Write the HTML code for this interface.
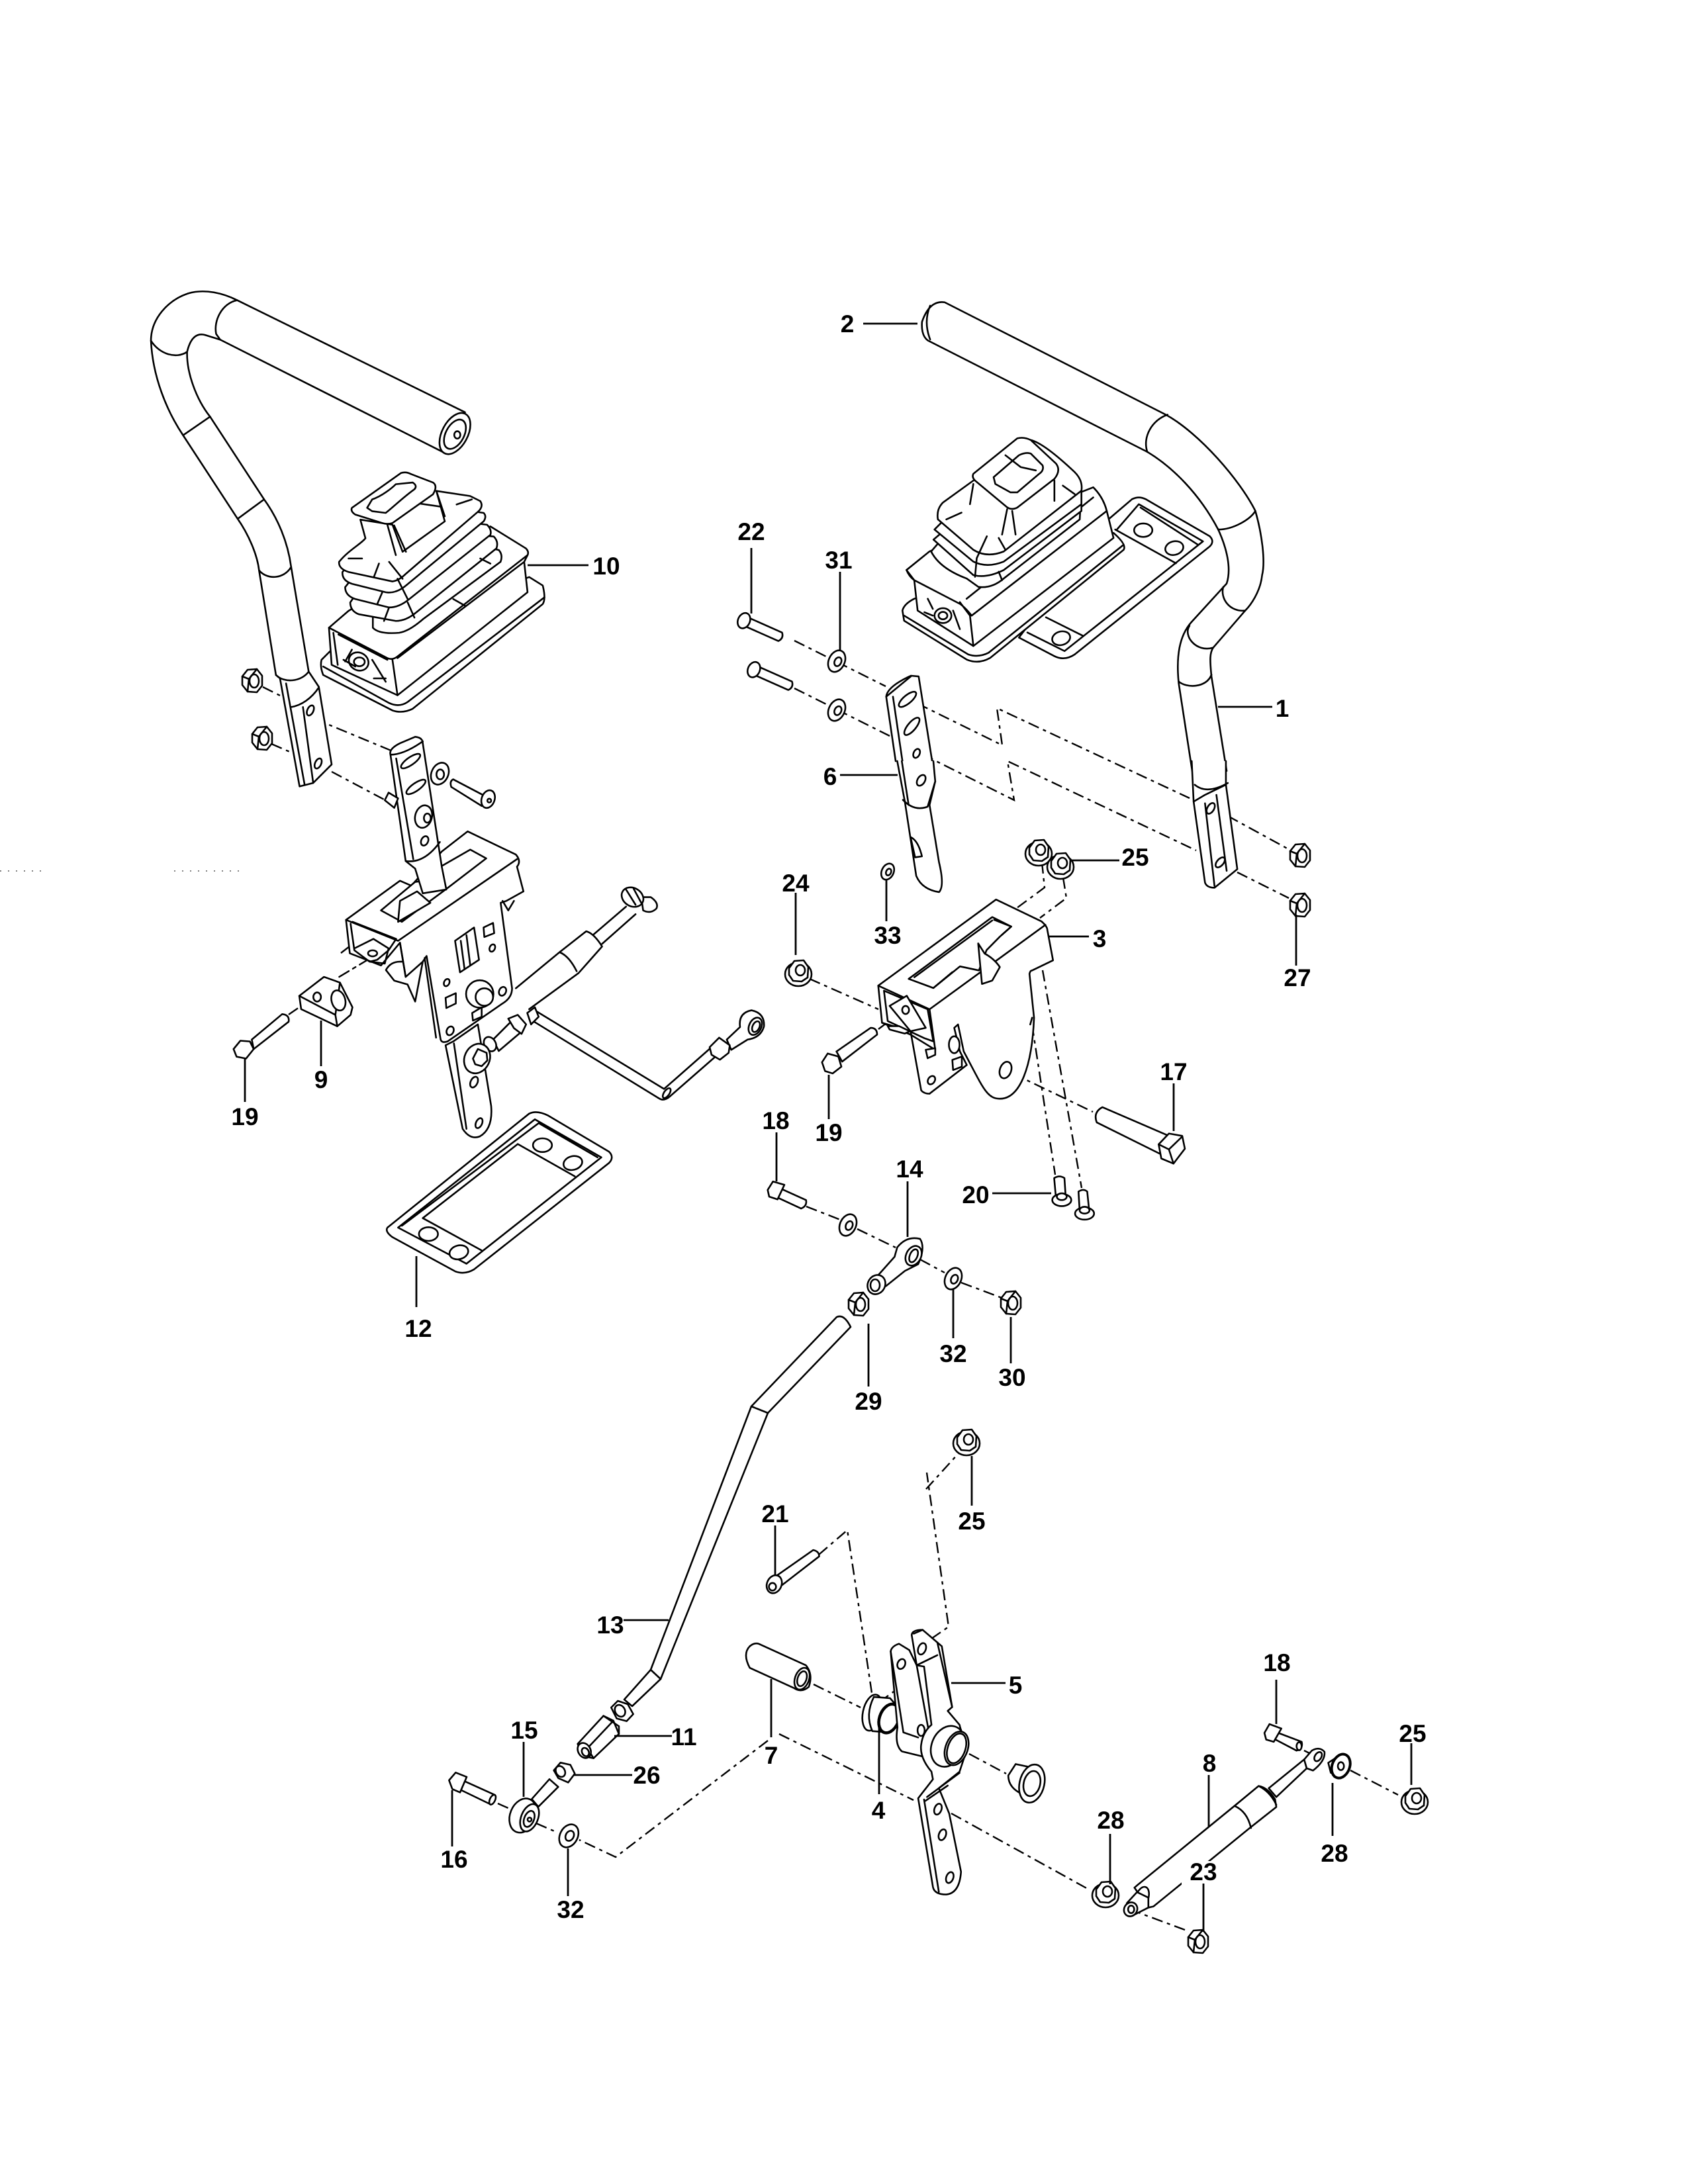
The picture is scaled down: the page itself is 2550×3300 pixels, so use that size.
<!DOCTYPE html>
<html><head><meta charset="utf-8"><style>
html,body{margin:0;padding:0;background:#fff}
svg{display:block}
svg *{vector-effect:non-scaling-stroke}
.p{fill:#fff;stroke:#000;stroke-width:2.6;stroke-linejoin:round;stroke-linecap:round}
.p .n,.n{fill:none}
.d{fill:none;stroke:#000;stroke-width:2.4;stroke-dasharray:17 7 5 7}
.l{fill:none;stroke:#000;stroke-width:2.8}
text{font-family:"Liberation Sans",sans-serif;font-weight:bold;font-size:37px;fill:#000;text-anchor:middle;stroke:none}
</style></head><body>
<svg xmlns="http://www.w3.org/2000/svg" width="2550" height="3300" viewBox="0 0 2550 3300">
<defs>
<g id="nut"><polygon points="-15,-7 -7,-17 7,-18 15,-8 15,7 7,17 -7,16 -15,6"/><ellipse cx="3" cy="0" rx="7" ry="10"/><path class="n" d="M-15,-7 L-5,-3 L-7,16 M-5,-3 L7,-18"/></g>
<g id="fl"><ellipse cx="0" cy="3" rx="20" ry="18"/><polygon points="-14,-6 -6,-17 8,-18 15,-8 14,8 5,14 -8,13 -14,4"/><ellipse cx="3" cy="-3" rx="7" ry="8"/></g>
<g id="w"><ellipse cx="0" cy="0" rx="12" ry="17" transform="rotate(25)"/><ellipse cx="2" cy="0" rx="5" ry="7" transform="rotate(25)"/></g>
</defs>
<rect width="2550" height="3300" fill="#fff"/>

<!-- dashed lines -->
<g class="d">
<path d="M397,1038 L427,1053 M410,1124 L440,1137 M475,1086 L593,1135 M501,1166 L582,1209"/>
<path d="M1200,968 L1338,1037 M1386,1063 L1514,1126 L1506,1070 L1797,1206 M1200,1040 L1348,1114 M1394,1140 L1532,1209 L1522,1150 L1807,1285"/>
<path d="M1855,1233 L1950,1285 M1869,1318 L1947,1357"/>
<path d="M1574,1303 L1578,1341 L1536,1372 M1606,1326 L1611,1357 L1571,1387"/>
<path d="M1223,1479 L1327,1525 M1327,1555 L1347,1540 M1530,1622 L1651,1680"/>
<path d="M1559,1548 L1594,1775 M1575,1466 L1634,1795"/>
<path d="M1218,1823 L1272,1844 M1295,1857 L1353,1885 M1390,1903 L1427,1923 M1452,1938 L1516,1962"/>
<path d="M515,1440 L550,1413 M436,1533 L452,1522"/>
<path d="M1237,2349 L1280,2312 L1320,2578 L1350,2556 M1399,2250 L1448,2196 M1407,2476 L1433,2458 L1400,2225"/>
<path d="M1229,2545 L1300,2580 M1464,2650 L1520,2680 M1437,2740 L1645,2855 M1177,2620 L1380,2720"/>
<path d="M1160,2630 L930,2806 L875,2780 M810,2755 L840,2768 M752,2725 L770,2733"/>
<path d="M1790,2916 L1720,2890 M2040,2675 L2112,2712 M1970,2645 L2000,2660"/>
</g>

<!-- LEFT HANDLE + BOOT 10 -->
<g class="p" transform="translate(200,400) scale(.5102)">
<path d="M985,437 L310,105 C270,85 215,70 165,85 C105,105 55,160 55,225 C60,330 100,430 150,505 L310,750 C345,800 370,860 375,905 L425,1215 L437,1225 L495,1545 L535,1535 L590,1480 L552,1250 L522,1205 L470,895 C460,820 430,750 390,695 L230,450 C190,400 160,320 162,258 C170,225 185,200 215,208 L260,222 L920,555 Z"/>
<ellipse cx="955" cy="500" rx="38" ry="66" transform="rotate(28 955 500)"/>
<ellipse cx="955" cy="502" rx="27" ry="47" transform="rotate(28 955 502)"/>
<ellipse cx="962" cy="504" rx="9" ry="11"/>
<path class="n" d="M310,105 C265,115 240,165 248,205 L260,222 M55,225 C80,265 130,280 162,258 M150,505 L230,450 M315,750 L390,695 M375,905 C400,935 450,930 470,895 M425,1215 C450,1240 500,1235 522,1205 M455,1240 L510,1540 M505,1310 L535,1532 M470,1310 C500,1305 530,1285 552,1252"/>
<ellipse cx="527" cy="1320" rx="9" ry="16" transform="rotate(25 527 1320)"/>
<ellipse cx="550" cy="1477" rx="9" ry="16" transform="rotate(25 550 1477)"/>

<path d="M560,1170 L590,1140 L1175,925 L1215,950 Q1225,990 1215,1005 L830,1315 Q800,1330 770,1320 L565,1215 Q555,1190 560,1170Z"/>
<path class="n" d="M565,1190 L760,1298 Q790,1312 815,1295 L1220,985"/>
<path d="M582,1075 L640,1025 L1060,775 L1165,840 Q1175,850 1170,860 L1160,880 L1170,970 L785,1275 L590,1185Z"/>
<path class="n" d="M582,1075 L755,1165 Q770,1172 785,1160 L1170,860 M770,1170 L785,1275 M595,1090 L608,1185 M610,1095 L755,1170 M785,1165 L1160,880"/>
<ellipse cx="670" cy="1175" rx="30" ry="26" transform="rotate(30 670 1175)"/><ellipse cx="672" cy="1176" rx="16" ry="13"/>
<path class="n" d="M630,1175 L650,1140 M625,1170 L660,1190 M710,1170 L750,1235 M715,1225 L750,1225"/>
<path d="M712,1045 L712,1075 Q730,1095 790,1090 Q820,1085 860,1050 L1090,880 Q1098,860 1085,845 L900,800Z"/>
<path d="M645,1000 Q645,1025 670,1035 L780,1055 Q810,1055 840,1030 L1078,840 Q1085,820 1070,805 L800,780Z"/>
<path d="M630,955 Q630,980 660,990 L760,1015 Q790,1015 820,990 L1060,800 Q1065,785 1050,770 L800,740Z"/>
<path d="M622,910 Q620,935 650,945 L750,970 Q780,975 810,950 L1040,760 Q1050,745 1040,735 L800,700Z"/>
<path d="M690,810 C680,825 640,845 612,880 Q610,900 640,910 L770,938 Q790,935 810,915 L1025,730 Q1040,715 1030,700 L1000,685 L900,670 L925,760 L800,850 L770,770 L675,755 Z"/>
<path d="M650,720 L795,617 Q810,612 825,620 L890,645 Q905,655 890,680 L770,765 Q755,770 740,765 L660,740 Q645,730 650,720Z"/>
<path d="M695,720 L710,695 C740,685 770,660 780,650 L830,645 Q845,655 835,665 C800,690 770,720 750,735 L710,730 Z"/>
<path class="n" d="M755,770 L780,860 M775,772 L810,850 M730,885 L715,925 M760,880 L800,930 M640,870 L680,870 M960,710 L1005,695 M900,670 L925,745 M785,930 L815,990 M740,970 L725,1005 M760,1015 L745,1055 M815,1000 L835,1045 M1030,870 L1060,885 M950,990 L985,1010"/>
</g>
<use href="#nut" x="381" y="1029" class="p"/>
<use href="#nut" x="396" y="1116" class="p"/>

<!-- LEFT MID ASSEMBLY -->
<g class="p" transform="translate(300,1080) scale(.574)">
<path class="d" style="fill:none" d="M370,690 L445,645"/>
<!-- bracket 9 -->
<path d="M265,740 L330,690 L372,705 L405,770 L400,790 L365,820 L270,775 Z"/>
<path class="n" d="M265,740 L360,790 L372,705 M360,790 L365,820"/>
<ellipse cx="312" cy="743" rx="10" ry="12"/><ellipse cx="368" cy="752" rx="18" ry="27" transform="rotate(-15 368 752)"/>
<!-- bolt 19 -->
<path d="M140,855 L220,788 Q240,790 237,808 L145,880Z"/>
<polygon points="92,880 110,858 135,860 145,880 125,905 100,900"/>
<!-- lower lever -->
<path d="M650,870 L670,860 L735,815 L770,1030 Q775,1090 740,1110 Q715,1120 695,1090Z"/>
<path class="n" d="M672,865 L705,1090"/>
<ellipse cx="725" cy="967" rx="9" ry="15" transform="rotate(25 725 967)"/>
<ellipse cx="738" cy="1075" rx="8" ry="14" transform="rotate(25 738 1075)"/>
<!-- back bits -->
<path d="M493,672 Q505,650 530,650 L590,650 L570,755 L550,710 L515,700Z"/>
<!-- bracket -->
<path d="M388,540 L530,437 L560,450 L640,360 L708,307 L835,368 Q850,385 838,400 L855,465 L810,490 L795,495 L825,720 Q825,745 800,760 L655,860 Q640,865 637,855 L600,635 L590,650 L545,690 L530,600 L480,660 L398,628Z"/>
<path class="n" d="M388,540 L525,595 L838,380 M530,600 L545,690 M400,550 L410,620 L450,650 L470,645 L500,620 L520,590 L405,545 M410,615 L460,590 L500,615 L490,655 L450,650"/>
<path d="M480,515 L535,545 L650,460 L757,378 L715,355 L640,398 L610,435 L570,440 Z"/>
<path d="M525,545 L530,490 L575,465 L610,495 Z"/>
<ellipse cx="458" cy="628" rx="12" ry="8"/>
<path d="M675,595 L725,560 L738,645 L688,678Z"/><path class="n" d="M690,595 L700,670 M705,580 L715,660"/>
<path class="n" d="M595,640 L625,850 M800,490 L815,515 L830,490"/>
<path d="M750,560 L775,548 L778,575 L752,585Z"/><path d="M650,745 L677,733 L677,760 L652,772Z"/><path d="M720,785 L745,770 L745,795 L722,805Z"/>
<ellipse cx="773" cy="614" rx="7" ry="10" transform="rotate(25 773 614)"/><ellipse cx="653" cy="705" rx="7" ry="10" transform="rotate(25 653 705)"/><ellipse cx="800" cy="728" rx="9" ry="12" transform="rotate(25 800 728)"/><ellipse cx="662" cy="832" rx="9" ry="12" transform="rotate(25 662 832)"/>
<circle cx="740" cy="735" r="36"/><circle cx="752" cy="743" r="23"/>
<!-- arm -->
<path d="M505,105 Q500,90 530,75 L570,58 Q590,60 590,75 L640,400 L652,460 L590,470 L570,405 L545,385Z"/>
<path class="n" d="M520,115 L565,380 M505,105 Q540,105 590,70 M545,385 C580,390 610,370 635,335"/>
<ellipse cx="558" cy="122" rx="10" ry="30" transform="rotate(55 558 122)"/>
<ellipse cx="572" cy="190" rx="10" ry="30" transform="rotate(55 572 190)"/>
<ellipse cx="592" cy="268" rx="22" ry="30" transform="rotate(15 592 268)"/><ellipse cx="602" cy="272" rx="9" ry="12"/>
<ellipse cx="595" cy="332" rx="9" ry="13" transform="rotate(25 595 332)"/>
<path d="M500,205 L490,225 L515,245 L525,220Z"/>
<ellipse cx="635" cy="155" rx="22" ry="30" transform="rotate(25 635 155)"/><ellipse cx="636" cy="157" rx="10" ry="13"/>
<path d="M670,170 L750,212 L745,240 L665,190Q660,175 670,170Z"/><ellipse cx="762" cy="222" rx="17" ry="24" transform="rotate(20 762 222)"/><circle cx="765" cy="226" r="5"/>
<!-- rods -->
<path d="M880,775 L1225,985 L1350,875 L1360,900 L1240,1005 Q1225,1018 1212,1010 L870,800Z"/>
<ellipse cx="1232" cy="996" rx="7" ry="15" transform="rotate(35 1232 996)"/>
<path d="M835,720 L950,625 L1020,570 Q1040,575 1062,610 L1000,680 L870,775"/>
<path class="n" d="M950,625 C975,635 990,665 995,675 M1040,578 L1125,505 M1062,603 L1150,525"/>
<path d="M1165,480 L1190,480 Q1212,495 1205,510 Q1190,525 1170,515Z"/>
<ellipse cx="1142" cy="480" rx="30" ry="24" transform="rotate(30 1142 480)"/><path class="n" d="M1125,460 L1150,500 M1145,458 L1165,495"/>
<path d="M1390,855 L1425,822 Q1420,785 1455,778 Q1490,785 1488,820 Q1480,850 1445,855 L1402,882Z"/>
<polygon points="1345,875 1370,850 1398,870 1395,890 1372,908 1350,895"/>
<ellipse cx="1465" cy="820" rx="16" ry="24" transform="rotate(25 1465 820)"/><ellipse cx="1467" cy="821" rx="9" ry="15" transform="rotate(25 1467 821)"/>
<path d="M775,855 L825,805 L855,830 L790,885 Z"/><polygon points="815,800 840,790 862,815 850,840 830,825"/>
<ellipse cx="767" cy="867" rx="15" ry="20" transform="rotate(-30 767 867)"/>
<path d="M865,785 L885,770 L895,795 L875,815Z"/>
<ellipse cx="733" cy="905" rx="33" ry="40" transform="rotate(25 733 905)"/><polygon points="722,905 735,880 758,890 760,910 745,925 728,920"/>
<!-- plate 12 -->
<path d="M497,1350 L870,1050 Q890,1040 920,1055 L1080,1150 Q1095,1165 1080,1180 L725,1460 Q700,1475 675,1465 L510,1375 Q490,1360 497,1350Z"/>
<path class="n" d="M525,1350 L885,1065 L1060,1165 L705,1445 L525,1350 M535,1345 L895,1075 L1050,1165 M840,1130 L990,1215 M590,1325 L745,1410 M590,1325 L840,1130"/>
<ellipse cx="905" cy="1133" rx="25" ry="18"/><ellipse cx="985" cy="1180" rx="25" ry="18" transform="rotate(-15 985 1180)"/><ellipse cx="605" cy="1367" rx="25" ry="18"/><ellipse cx="685" cy="1415" rx="25" ry="18" transform="rotate(-15 685 1415)"/>
</g>

<!-- RIGHT HANDLE + BOOT -->
<g class="p" transform="translate(1200,420) scale(.5102)">
<path d="M1178,1460 L1138,1200 C1130,1120 1140,1060 1175,1020 L1280,905 C1295,860 1280,800 1255,745 C1200,640 1120,560 1045,515 L395,185 Q375,170 378,130 Q400,65 445,72 L1100,405 C1200,460 1320,600 1365,690 C1385,760 1395,840 1385,880 C1380,930 1350,970 1335,985 L1240,1095 C1230,1110 1230,1130 1235,1180 L1280,1460"/>
<path class="n" d="M402,82 Q382,130 402,182 M1105,405 C1060,420 1030,470 1045,515 M1255,745 C1300,745 1350,715 1365,690 M1270,915 C1260,950 1290,990 1335,985 M1170,1030 C1150,1060 1190,1110 1240,1095 M1138,1195 C1160,1215 1220,1215 1235,1175"/>
<path d="M930,715 L1000,655 Q1020,645 1040,655 L1230,765 Q1245,780 1230,795 L830,1115 Q800,1135 770,1120 L665,1065Z"/>
<path class="n" d="M955,745 L1020,670 L1210,780 L800,1105 L690,1050 M950,745 L1130,845 M745,1005 L855,1060 M1025,680 L1195,790"/>
<ellipse cx="1033" cy="747" rx="27" ry="20"/><ellipse cx="1125" cy="800" rx="27" ry="20" transform="rotate(-15 1125 800)"/><ellipse cx="790" cy="1067" rx="27" ry="20" transform="rotate(-15 790 1067)"/>
<path d="M320,985 Q325,965 355,950 L945,755 Q985,790 975,805 L580,1125 Q545,1145 510,1130 L325,1015Z"/>
<path class="n" d="M325,1000 L515,1115 Q545,1125 575,1110 L975,790"/>
<path d="M332,865 L400,810 L885,620 Q915,650 925,690 L945,770 L530,1090 L365,985 L355,895Z"/>
<path class="n" d="M332,865 Q340,885 355,895 L490,965 Q505,975 525,1000 L925,690 M490,960 L520,1000 L530,1090 M510,950 L885,650"/>
<ellipse cx="440" cy="1000" rx="25" ry="22"/><ellipse cx="440" cy="1000" rx="13" ry="11"/>
<path class="n" d="M395,950 L410,980 M385,990 L410,1000 M470,985 L490,1040"/>
<path d="M405,810 Q430,860 510,890 L545,915 Q585,920 620,890 L845,715 L850,620 L500,700 Z"/>
<path d="M412,775 L530,880 Q570,890 620,865 L850,690 L850,620 L500,700Z"/>
<path d="M415,745 L530,840 Q570,860 620,840 L850,670 L850,620 L500,660Z"/>
<path d="M425,715 Q420,685 440,665 L530,600 L700,480 Q740,490 830,575 Q855,600 850,630 L620,810 Q570,830 530,805Z"/>
<path d="M530,580 L660,475 Q680,470 700,480 L775,550 Q790,570 770,595 L660,680 Q640,690 625,675 L535,600 Q525,590 530,580Z"/>
<path d="M590,590 L665,525 Q685,515 700,520 L735,555 Q740,570 725,580 L660,635 L640,635 L595,610 Z"/>
<path class="n" d="M630,685 L615,760 M645,690 L655,760 M570,765 L540,830 M605,770 L625,805 M450,715 L495,695 M530,610 L520,670 M770,600 L770,660 M795,615 L830,640 M625,525 L670,560 L715,570 M540,830 L535,885 M605,870 L615,895"/>
<!-- arm 6 upper -->
<path d="M300,1431 L272,1240 Q275,1210 345,1178 L368,1180 L408,1431"/>
<path class="n" d="M292,1240 L320,1431 M272,1240 L345,1180"/>
<ellipse cx="335" cy="1248" rx="12" ry="32" transform="rotate(50 335 1248)"/>
<ellipse cx="348" cy="1328" rx="12" ry="32" transform="rotate(40 348 1328)"/>
<ellipse cx="362" cy="1408" rx="9" ry="14" transform="rotate(25 362 1408)"/>
</g>
<g class="p" transform="translate(1122,937) rotate(24)"><path d="M5,-7 L62,-7 Q68,0 62,7 L5,7Z"/><ellipse cx="2" cy="0" rx="9" ry="12"/></g>
<g class="p" transform="translate(1137,1011) rotate(24)"><path d="M5,-7 L62,-7 Q68,0 62,7 L5,7Z"/><ellipse cx="2" cy="0" rx="9" ry="12"/></g>
<use href="#w" x="1264" y="999" class="p"/>
<use href="#w" x="1264" y="1073" class="p"/>

<!-- BRACKET 3 etc -->
<g class="p" transform="translate(1100,1150) scale(.574,.5102)">
<!-- arm 6 lower -->
<path d="M445,0 L465,120 L495,340 Q510,380 555,388 Q570,370 555,300 L530,130 L545,60 L540,0"/>
<path class="n" d="M460,115 Q490,150 525,135 L545,60 M457,0 L475,130"/>
<ellipse cx="508" cy="57" rx="10" ry="17" transform="rotate(25 508 57)"/>
<path d="M480,225 Q500,235 510,282 L492,285 Z"/>
<!-- handle bottom -->
<path d="M1220,0 L1225,120 L1255,360 Q1260,375 1280,375 L1340,320 L1310,70 L1310,0"/>
<path class="n" d="M1228,70 Q1260,100 1315,65 M1255,125 L1280,370 M1285,100 L1312,325 M1225,120 L1255,100 L1310,70"/>
<ellipse cx="1270" cy="140" rx="9" ry="17" transform="rotate(25 1270 140)"/><ellipse cx="1295" cy="300" rx="9" ry="17" transform="rotate(35 1295 300)"/>
<path d="M395,665 L705,410 L825,475 Q840,490 840,500 L855,590 L800,620 Q795,620 793,630 L805,760 C800,900 770,1000 715,1000 C680,1000 670,965 620,860 L605,780 L595,790 L610,860 L628,900 L530,985 Q515,985 508,975 L480,800 L405,775 Z"/>
<path class="n" d="M395,665 L530,735 L835,485 M530,735 L545,855 L480,810 L405,775 M800,760 L795,780"/>
<path d="M475,645 L695,462 L745,490 L715,520 L680,560 L660,620 L610,608 L540,672 Z"/>
<path class="n" d="M540,672 L590,625 M490,640 L695,472 M700,470 L745,490 L720,515"/>
<path d="M658,540 L668,660 L695,650 L715,610 Q700,585 675,570Z"/>
<path d="M410,680 L525,735 L540,830 L515,820 L420,770 Z"/>
<path d="M425,725 L470,695 L520,790 L480,800Z"/>
<ellipse cx="467" cy="737" rx="9" ry="12"/>
<path d="M420,785 L450,785 L478,800 L465,807 L425,795Z"/>
<ellipse cx="595" cy="840" rx="14" ry="25"/><path d="M590,885 L615,875 L615,905 L592,915Z"/><path d="M520,855 L545,850 L545,870 L525,880Z"/><ellipse cx="535" cy="945" rx="9" ry="13" transform="rotate(25 535 945)"/>
<ellipse cx="730" cy="915" rx="15" ry="25" transform="rotate(15 730 915)"/>
<!-- bolt19 -->
<path d="M285,860 L375,790 Q392,790 392,810 L300,890Z"/><polygon points="247,892 262,866 290,875 298,905 275,925 255,918"/>
<!-- bolt17 -->
<path d="M985,1025 L1160,1110 L1140,1165 L970,1070 Q960,1040 985,1025Z"/>
<polygon points="1133,1135 1160,1103 1195,1110 1202,1148 1172,1192 1140,1177"/><path class="n" d="M1133,1135 L1160,1150 L1172,1192 M1160,1150 L1195,1112"/>
<!-- bolts 20 -->
<path d="M858,1235 Q872,1225 885,1235 L888,1285 L862,1285Z"/><ellipse cx="878" cy="1300" rx="25" ry="18"/><ellipse cx="878" cy="1290" rx="13" ry="10"/>
<path d="M922,1275 Q935,1265 945,1275 L950,1330 L925,1330Z"/><ellipse cx="938" cy="1340" rx="25" ry="18"/><ellipse cx="938" cy="1330" rx="13" ry="10"/>
<!-- bolt 18 -->
<path d="M130,1262 L205,1300 Q208,1318 192,1325 L125,1290Z"/><polygon points="104,1270 118,1245 148,1255 130,1298 108,1290"/>
<!-- eye 14 -->
<path d="M438,1468 L445,1440 Q470,1405 505,1415 Q520,1440 500,1490 L465,1510 L415,1555 L385,1535Z"/>
<ellipse cx="488" cy="1465" rx="20" ry="30" transform="rotate(20 488 1465)"/><ellipse cx="488" cy="1465" rx="10" ry="20" transform="rotate(20 488 1465)"/>
</g>
<use href="#w" x="1281" y="1851" class="p"/>
<use href="#w" x="1440" y="1932" class="p"/>
<g class="p" transform="translate(1341,1317) scale(.75)"><use href="#w"/></g>
<use href="#nut" x="1964" y="1293" class="p"/>
<use href="#nut" x="1964" y="1368" class="p"/>
<use href="#fl" x="1569" y="1287" class="p"/>
<use href="#fl" x="1602" y="1307" class="p"/>
<use href="#fl" x="1206" y="1469" class="p"/>
<use href="#nut" x="1527" y="1969" class="p"/>
<use href="#nut" x="1297" y="1971" class="p"/>
<g class="p"><ellipse cx="1324" cy="1941" rx="13" ry="15" transform="rotate(30 1324 1941)"/><ellipse cx="1322" cy="1942" rx="7" ry="9"/></g>
<use href="#fl" x="1460" y="2178" class="p"/>

<!-- ROD 13 -->
<g class="p">
<path d="M1264,1990 Q1275,1985 1285,2005 L1160,2135 L998,2537 L955,2578 L943,2568 L983,2523 L1135,2125Z"/>
<path class="n" d="M1135,2125 L1160,2135 M983,2523 L998,2537"/>
</g>

<!-- LOWER LEFT -->
<g class="p" transform="translate(650,2400) scale(.3333)">
<polygon points="820,540 850,510 895,525 920,570 890,602 845,590"/><ellipse cx="860" cy="555" rx="22" ry="28" transform="rotate(-30 860 555)"/>
<path d="M668,705 L785,578 L855,625 L855,660 L740,770 L690,760Z"/><path class="n" d="M712,725 L830,600 M785,578 L830,600 L855,660 M712,725 L740,770"/>
<ellipse cx="698" cy="735" rx="28" ry="36" transform="rotate(-30 698 735)"/><ellipse cx="703" cy="742" rx="15" ry="20" transform="rotate(-30 703 742)"/>
<polygon points="560,825 590,790 635,800 655,840 625,880 580,860"/><ellipse cx="590" cy="830" rx="20" ry="26" transform="rotate(-30 590 830)"/>
<path d="M540,865 L580,900 L490,990 L460,955Z"/>
<ellipse cx="420" cy="1030" rx="58" ry="80" transform="rotate(22 420 1030)"/>
<ellipse cx="450" cy="1040" rx="38" ry="65" transform="rotate(22 450 1040)"/><ellipse cx="448" cy="1045" rx="22" ry="38" transform="rotate(22 448 1045)"/><circle cx="450" cy="1048" r="9"/>
<path d="M135,865 L290,935 Q300,960 275,980 L120,905Z"/><polygon points="85,870 115,835 165,855 135,925 100,910"/><ellipse cx="282" cy="958" rx="12" ry="24" transform="rotate(25 282 958)"/>
<ellipse cx="628" cy="1122" rx="40" ry="55" transform="rotate(28 628 1122)"/><ellipse cx="632" cy="1122" rx="18" ry="24" transform="rotate(28 632 1122)"/>
</g>

<!-- LEVER 5 etc -->
<g class="p" transform="translate(1050,2300) scale(.4464,.3827)">
<!-- bolt 21 -->
<path d="M275,212 L400,110 Q420,115 420,135 L295,248 Z"/><ellipse cx="268" cy="245" rx="25" ry="36" transform="rotate(15 268 245)"/><ellipse cx="262" cy="255" rx="12" ry="15"/>
<!-- spacer 7 -->
<path d="M215,480 L375,565 Q400,600 385,650 Q360,675 335,655 L185,575 Q160,520 185,490 Q200,475 215,480Z"/><ellipse cx="362" cy="618" rx="24" ry="44" transform="rotate(15 362 618)"/><ellipse cx="362" cy="618" rx="15" ry="30" transform="rotate(15 362 618)"/>
<!-- bushing 4 -->
<ellipse cx="600" cy="752" rx="32" ry="72" transform="rotate(10 600 752)"/>
<path d="M605,690 L660,695 L690,735 L660,830 L600,825 Q575,760 605,690Z"/>
<ellipse cx="657" cy="775" rx="33" ry="58" transform="rotate(15 657 775)" style="stroke-width:4.5"/>
<!-- rear ear -->
<path d="M685,810 Q675,880 700,905 L770,925 L790,820 L750,565 L725,505 L690,480 Q665,490 662,510 L685,810Z"/>
<path class="n" d="M662,510 L705,830 L755,850"/>
<ellipse cx="698" cy="560" rx="13" ry="20" transform="rotate(15 698 560)"/>
<ellipse cx="765" cy="822" rx="12" ry="22"/>
<!-- front arm -->
<path d="M733,445 Q735,425 770,425 L835,490 L870,730 L855,745 L895,800 Q900,830 925,880 L895,985 L825,1050 L860,1150 L900,1380 Q895,1465 850,1470 Q810,1470 805,1440 L755,1090 L805,1015 L800,985 Q760,930 765,880 Q770,830 800,800 L775,570 L750,565 Z"/>
<path class="n" d="M750,565 L820,525 M820,475 L870,730 M775,1095 L825,1460 M785,1085 L895,990 M780,1100 L855,1040 M740,440 L770,425"/>
<ellipse cx="768" cy="500" rx="13" ry="23" transform="rotate(15 768 500)"/>
<ellipse cx="855" cy="885" rx="55" ry="82" transform="rotate(15 855 885)"/>
<ellipse cx="885" cy="893" rx="38" ry="68" transform="rotate(15 885 893)"/><ellipse cx="885" cy="893" rx="30" ry="60" transform="rotate(15 885 893)"/>
<ellipse cx="822" cy="1133" rx="12" ry="22" transform="rotate(15 822 1133)"/><ellipse cx="837" cy="1234" rx="12" ry="22" transform="rotate(15 837 1234)"/><ellipse cx="862" cy="1403" rx="12" ry="22" transform="rotate(15 862 1403)"/>
<path d="M1085,955 L1125,965 L1150,1090 L1110,1075 Q1060,1050 1060,1000Z"/><ellipse cx="1140" cy="1032" rx="42" ry="76" transform="rotate(10 1140 1032)"/><ellipse cx="1140" cy="1032" rx="28" ry="50" transform="rotate(10 1140 1032)"/>
</g>

<!-- STRUT 8 -->
<g class="p" transform="translate(1620,2550) scale(.3827,.334)">
<path d="M255,895 L640,535 L735,445 Q770,450 800,505 L805,540 L700,635 L320,990 L300,995 L245,905Z"/>
<path class="n" d="M640,535 Q690,560 705,635 M735,445 Q780,470 805,530"/>
<ellipse cx="275" cy="950" rx="25" ry="50" transform="rotate(15 275 950)"/>
<path d="M215,975 L255,925 L300,950 L300,995 L240,1030Z"/><ellipse cx="230" cy="1003" rx="26" ry="32" transform="rotate(15 230 1003)"/><ellipse cx="232" cy="1003" rx="12" ry="17"/>
<path d="M775,455 L915,325 L925,365 L805,495Z"/>
<path d="M915,325 L945,285 Q975,265 995,290 Q1000,330 950,375 L925,365Z"/><ellipse cx="970" cy="312" rx="13" ry="22" transform="rotate(25 970 312)"/>
<path d="M790,195 L905,245 Q912,275 885,285 L785,225Z"/><polygon points="758,205 778,165 825,185 795,245 765,235"/><ellipse cx="895" cy="265" rx="10" ry="18"/>
<path d="M1010,340 L1050,310 L1095,340 L1060,410 L1020,385Z"/><ellipse cx="1060" cy="355" rx="35" ry="55" transform="rotate(15 1060 355)" style="stroke-width:4"/><ellipse cx="1060" cy="355" rx="12" ry="18"/>
</g>
<use href="#fl" x="1670" y="2861" class="p"/>
<use href="#nut" x="1810" y="2934" class="p"/>
<use href="#fl" x="2137" y="2720" class="p"/>
<!-- white gap in strut for label 23 -->
<rect x="1785" y="2812" width="68" height="38" fill="#fff"/>

<!-- leaders -->
<path class="l" d="M797,854H889M1304,489H1386M1135,828V927M1269,864V984M1269,1171H1356M1840,1068H1922M1619,1300H1691M1585,1415H1645M1202,1349V1443M1339,1329V1392M1958,1382V1459M1252,1624V1691M1773,1637V1709M1173,1711V1785M1371,1785V1869M1499,1803H1588M1440,1948V2022M1527,1990V2060M1312,2000V2095M1468,2200V2275M1171,2305V2380M485,1542V1611M370,1599V1665M629,1898V1975M1437,2543H1519M1165,2537V2625M1328,2602V2711M1677,2771V2847M942,2448H1010M928,2623H1015M867,2682H955M791,2632V2715M683,2705V2790M858,2793V2865M1826,2682V2761M1928,2538V2605M2132,2634V2697M2013,2694V2774M1818,2846V2919"/>

<!-- labels -->
<text x="916" y="868">10</text><text x="1937" y="1083">1</text><text x="1280" y="502">2</text>
<text x="1135" y="816">22</text><text x="1267" y="859">31</text><text x="1254" y="1186">6</text>
<text x="1715" y="1308">25</text><text x="1661" y="1431">3</text><text x="1202" y="1347">24</text>
<text x="1341" y="1426">33</text><text x="1960" y="1490">27</text><text x="1252" y="1724">19</text>
<text x="1773" y="1632">17</text><text x="1172" y="1706">18</text><text x="1374" y="1779">14</text>
<text x="1474" y="1818">20</text><text x="1440" y="2058">32</text><text x="1529" y="2094">30</text>
<text x="1312" y="2130">29</text><text x="1468" y="2311">25</text><text x="1171" y="2300">21</text>
<text x="485" y="1644">9</text><text x="370" y="1700">19</text><text x="632" y="2020">12</text>
<text x="1534" y="2559">5</text><text x="1165" y="2665">7</text><text x="1327" y="2748">4</text>
<text x="1678" y="2763">28</text><text x="922" y="2468">13</text><text x="1033" y="2637">11</text>
<text x="977" y="2695">26</text><text x="792" y="2627">15</text><text x="686" y="2822">16</text>
<text x="862" y="2898">32</text><text x="1827" y="2677">8</text><text x="1929" y="2525">18</text>
<text x="2134" y="2632">25</text><text x="2016" y="2813">28</text><text x="1818" y="2841">23</text>

<!-- scan specks -->
<path d="M0,1316 H70 M263,1316 H368" fill="none" stroke="#000" stroke-width="1" stroke-dasharray="2 10"/>
</svg>
</body></html>
